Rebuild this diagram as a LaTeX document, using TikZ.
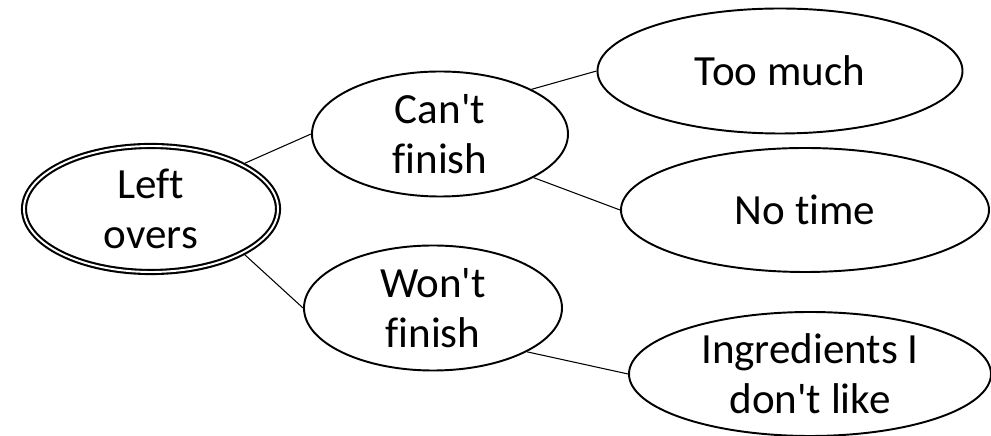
\documentclass[tikz,border=0pt]{standalone}
\usepackage{fontspec}
\setmainfont{Carlito}[Ligatures=NoCommon]
\usetikzlibrary{shapes.geometric}
\tikzset{
	bubble/.style={ellipse, draw, line width=1.1pt, inner sep=0pt, align=center,
		font=\fontsize{24.5}{28.45}\selectfont},
	link/.style={line width=0.6pt}
}
\def\q{\textquotesingle}

\begin{document}
\begin{tikzpicture}
		%%%%% START %%%%%
		
		\useasboundingbox (0, 0) rectangle (19.82, 8.72);
		
		\node[bubble, line width=1.2pt, double, double distance=1.1pt, outer sep=1.7pt,
			minimum width=5.08cm, minimum height=2.52cm] (lo) at (3.02, 4.54) {Left\\overs};
		
		\node[bubble, minimum width=5.12cm, minimum height=2.50cm] (cf) at (8.80, 6.04) {Can\q t\\finish};
		\node[bubble, minimum width=5.16cm, minimum height=2.50cm] (wf) at (8.66, 2.56) {Won\q t\\finish};
		
		\node[bubble, minimum width=7.30cm, minimum height=2.50cm] (tm) at (15.60, 7.30) {Too much};
		\node[bubble, minimum width=7.36cm, minimum height=2.48cm] (nt) at (16.10, 4.52) {No time};
		\node[bubble, minimum width=7.24cm, minimum height=2.48cm] (ig) at (16.20, 1.24) {Ingredients I\\don\q t like};
		
		\draw[link] (lo.26) -- (cf.west);
		\draw[link] (lo.-26) -- (wf.west);
		\draw[link] (cf.26) -- (tm.west);
		\draw[link] (cf.-25) -- (nt.west);
		\draw[link] (wf.-25) -- (ig.west);
		
		%%%%% END %%%%%
	\end{tikzpicture}
\end{document}
